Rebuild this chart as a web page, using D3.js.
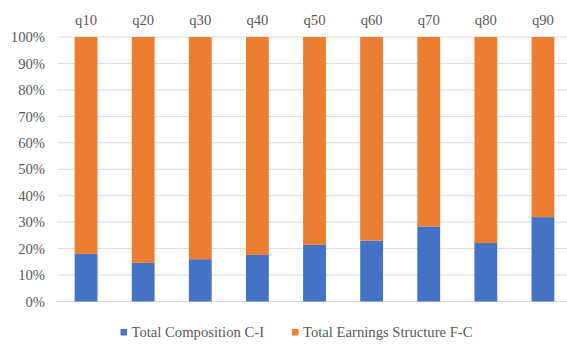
<!DOCTYPE html>
<html>
<head>
<meta charset="utf-8">
<script src="https://cdn.jsdelivr.net/npm/d3@7/dist/d3.min.js"></script>
<style>
  html, body { margin: 0; padding: 0; background: #fff; }
  svg { display: block; }
</style>
</head>
<body>
<svg id="chart" width="567" height="345"></svg>
<script>
// Quantile categories and the share of each component (percent)
const categories = ["q10", "q20", "q30", "q40", "q50", "q60", "q70", "q80", "q90"];
const compositionShare = [18.0, 14.6, 16.0, 17.6, 21.4, 23.0, 28.4, 22.1, 31.9];
const earningsShare = compositionShare.map(v => 100 - v);
const seriesNames = ["Total Composition C-I", "Total Earnings Structure F-C"];
const seriesColors = ["#4472C4", "#ED7D31"];
const yTicks = [0, 10, 20, 30, 40, 50, 60, 70, 80, 90, 100];

const FONT = "'Liberation Serif', 'Times New Roman', serif";
const FONT_SIZE = 14.67;
const TEXT_COLOR = "#595959";

const svg = d3.select("#chart");
const plotLeft = 57.5, plotRight = 571.5, plotTop = 37, plotBottom = 301.5;

const x = d3.scaleBand().domain(categories).range([plotLeft, plotRight]).paddingInner(0.6).paddingOuter(0.3);
const y = d3.scaleLinear().domain([0, 100]).range([plotBottom, plotTop]);

// Horizontal gridlines
svg.append("g").selectAll("line").data(yTicks).join("line")
  .attr("x1", plotLeft).attr("x2", 567)
  .attr("y1", d => y(d)).attr("y2", d => y(d))
  .attr("stroke", "#d9d9d9").attr("stroke-width", 1);

// Y-axis labels
const yAxis = d3.axisLeft(y).tickValues(yTicks).tickFormat(d => d + "%").tickSize(0).tickPadding(0);
const yg = svg.append("g").attr("transform", "translate(45,0)").call(yAxis)
  .attr("font-family", FONT).attr("font-size", FONT_SIZE);
yg.select(".domain").remove();
yg.selectAll("text").style("font-family", FONT).attr("fill", TEXT_COLOR);

// Category labels along the top
const xAxis = d3.axisTop(x).tickSize(0).tickPadding(0);
const xg = svg.append("g").attr("transform", "translate(0,25)").call(xAxis)
  .attr("font-family", FONT).attr("font-size", FONT_SIZE);
xg.select(".domain").remove();
xg.selectAll("text").style("font-family", FONT).attr("fill", TEXT_COLOR);

// Stacked bars
const rows = categories.map((c, i) => ({ cat: c, a: compositionShare[i], b: earningsShare[i] }));
const stack = d3.stack().keys(["a", "b"])(rows);
svg.append("g").selectAll("g").data(stack).join("g")
  .attr("fill", (d, i) => seriesColors[i])
  .selectAll("rect").data(d => d).join("rect")
  .attr("x", d => x(d.data.cat))
  .attr("width", x.bandwidth())
  .attr("y", d => y(d[1]))
  .attr("height", d => y(d[0]) - y(d[1]));

// Legend
const legendItems = [
  { name: seriesNames[0], color: seriesColors[0], x: 120.5 },
  { name: seriesNames[1], color: seriesColors[1], x: 292 }
];
const lg = svg.append("g");
legendItems.forEach(it => {
  lg.append("rect").attr("x", it.x).attr("y", 329).attr("width", 6.5).attr("height", 6.5).attr("fill", it.color);
  lg.append("text").attr("x", it.x + 11).attr("y", 337)
    .style("font-family", FONT).attr("font-size", FONT_SIZE).attr("fill", TEXT_COLOR).text(it.name);
});
</script>
</body>
</html>
